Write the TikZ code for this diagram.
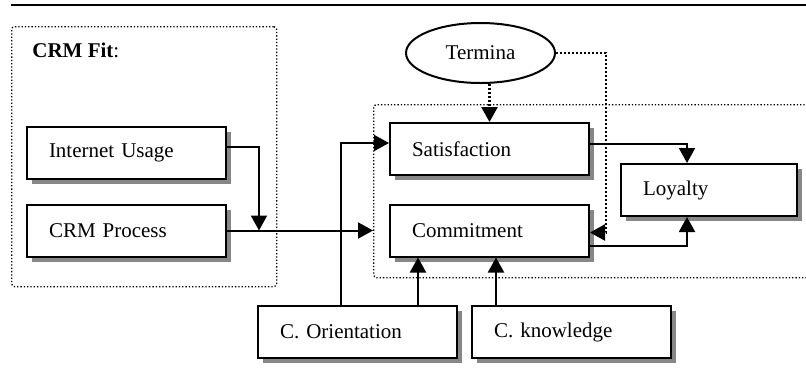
\documentclass[tikz,border=0pt]{standalone}
\usepackage{fontspec}
\setmainfont{Liberation Serif}
\usepackage{tikz}
\usetikzlibrary{arrows.meta,shapes.geometric,shadows}

\begin{document}
\begin{tikzpicture}[x=0.5pt,y=-0.5pt,font=\fontsize{10.5}{12}\selectfont,
   cbox/.style={draw,line width=1pt,fill=white,minimum height=26pt,text width=#1,inner xsep=11pt,align=left,
      drop shadow={shadow xshift=2.5pt,shadow yshift=-2.5pt,fill=black!47,opacity=1}},
   cbox/.default=77.5pt,
   grp/.style n args={2}{draw,densely dotted,line width=0.65pt,rounded corners=1.5pt,minimum width=#1,minimum height=#2,anchor=north west,inner sep=0pt},
   arr/.style={-{Triangle[length=7.5pt,width=8pt]},line width=1pt},
   darr/.style={arr,densely dotted,line width=1.2pt}]
\useasboundingbox (0,0) rectangle (806,371);
\clip (0,0) rectangle (806,371);
\draw[line width=1.25pt] (11,5) -- (806,5);
% groups
\node[grp={132.5pt}{130pt}] (fitgrp) at (11,26) {};
\node[grp={250pt}{86.5pt}] (core) at (373,104) {};
\node[anchor=base west,inner sep=0pt] (fitlbl) at (32,57) {\textbf{CRM Fit}:};
% boxes
\node[cbox] (inet) at (126.5,153) {Internet Usage};
\node[cbox] (proc) at (126.5,230.5) {CRM Process};
\node[cbox] (sat) at (489.5,149) {Satisfaction};
\node[cbox] (com) at (489.5,230.5) {Commitment};
\node[cbox=66pt] (loy) at (709,190) {Loyalty};
\node[cbox] (orient) at (357.5,332) {C. Orientation};
\node[cbox] (know) at (571.5,332) {C. knowledge};
\node[draw,ellipse,line width=1pt,fill=white,minimum width=74.5pt,minimum height=30pt,inner sep=0pt] (term) at (480.5,53) {Termina};
% links
\coordinate (jn) at ([xshift=16pt]proc.east);
\draw[arr] (proc.east) -- (proc.east -| core.west);
\draw[arr] ([yshift=3pt]inet.east) -| (jn);
\draw[arr] ([xshift=-8.25pt]orient.north) |- ([yshift=3pt]sat.west);
\draw[arr] ([xshift=30.25pt]orient.north) coordinate (o0) -- (o0 |- com.south);
\draw[arr] ([xshift=-37.75pt]know.north) coordinate (k0) -- (k0 |- com.south);
\draw[arr] ([yshift=2.5pt]sat.east) -| ([xshift=-11pt]loy.north);
\draw[arr] ([yshift=-7.75pt]com.east) -| ([xshift=-11pt]loy.south);
\draw[darr] (sat.north |- term.south) -- (sat.north);
\draw[darr] (term.east) -- ++(25pt,0) |- ([yshift=-1pt]com.east);
\end{tikzpicture}
\end{document}
